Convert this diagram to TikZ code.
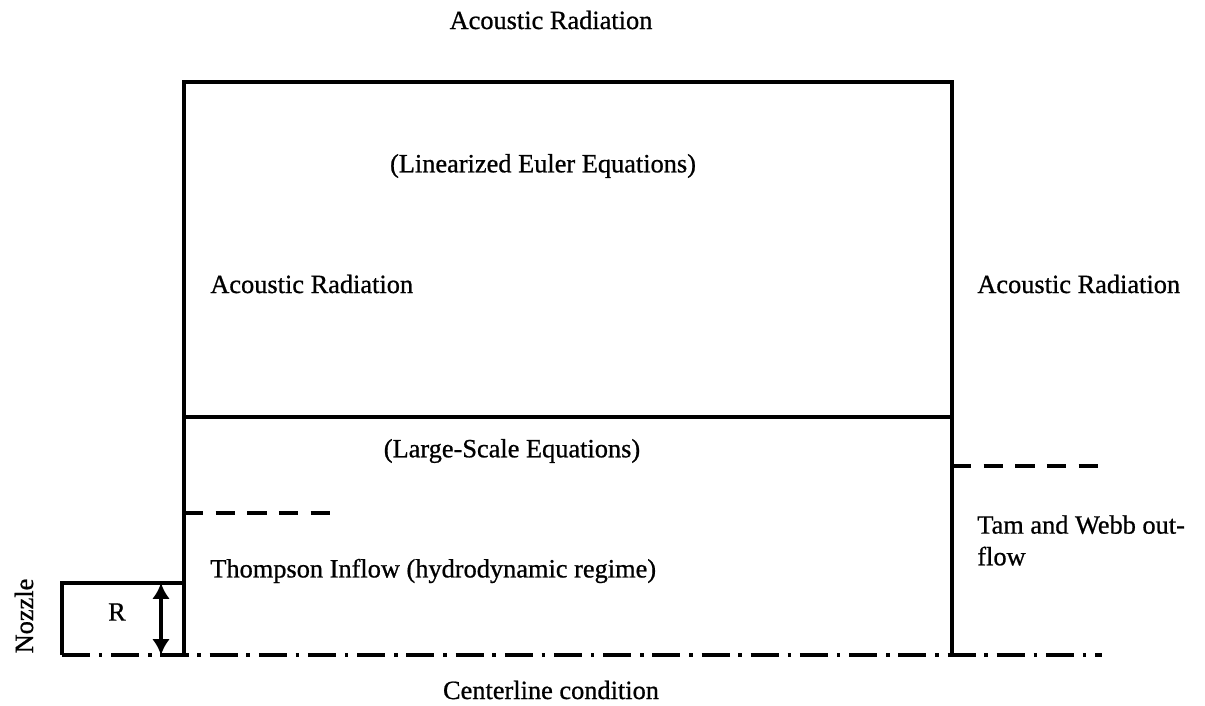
\documentclass[tikz,border=0pt]{standalone}
\usepackage{fontspec}
\setmainfont{Liberation Serif}[FakeBold=0.8]
\usetikzlibrary{arrows.meta}
\begin{document}
\begin{tikzpicture}[x=0.02cm,y=-0.02cm,
  solid line/.style={line width=2pt},
  dashline/.style={line width=2pt, dash pattern=on 11pt off 7pt},
  centerline/.style={line width=2pt, dash pattern=on 16pt off 5pt on 2pt off 5pt},
  lbl/.style={font=\fontsize{15}{18}\selectfont, inner sep=0pt}]
\useasboundingbox (0,0) rectangle (1205,706);
% corners
\coordinate (tl) at (184,82);
\coordinate (tr) at (952,82);
\coordinate (ml) at (184,417);
\coordinate (mr) at (952,417);
\coordinate (bl) at (184,655);
\coordinate (br) at (952,655);
\coordinate (nzt) at (62,583);
\coordinate (nzb) at (62,655);
\coordinate (nzc) at (184,583);
\coordinate (clend) at (1102,655);
\coordinate (ar1) at (161,583);
\coordinate (ar2) at (161,655);
\coordinate (d1a) at (184,513);
\coordinate (d1b) at (330,513);
\coordinate (d2a) at (952,466);
\coordinate (d2b) at (1102,466);
% box
\draw[solid line, line join=miter] (bl) -- (tl) -- (tr) -- (br);
\draw[solid line] (ml) -- (mr);
% nozzle
\draw[solid line] (nzb) -- (nzt) -- (nzc);
\draw[line width=2pt, {Latex[length=9pt,width=10pt]}-{Latex[length=9pt,width=10pt]}] (ar1) -- (ar2);
% centerline
\draw[centerline] (nzb) -- (clend);
% dashed lines
\draw[dashline] (d1a) -- (d1b);
\draw[dashline] (d2a) -- (d2b);
% labels
\node[lbl] (topar) at (551,20) {Acoustic Radiation};
\node[lbl] (lee) at (543,166) {(Linearized Euler Equations)};
\node[lbl, anchor=west] (leftar) at (210,284) {Acoustic Radiation};
\node[lbl, anchor=west] (rightar) at (977,284) {Acoustic Radiation};
\node[lbl] (lse) at (512,451) {(Large-Scale Equations)};
\node[lbl, anchor=west] (thom) at (210,571) {Thompson Inflow (hydrodynamic regime)};
\node[lbl, anchor=north west, align=left] (tam) at (977,515) {Tam and Webb out-\\flow};
\node[lbl] (R) at (117,612) {R};
\node[lbl, rotate=90] (noz) at (24,616) {Nozzle};
\node[lbl] (cl) at (551,690) {Centerline condition};
\end{tikzpicture}
\end{document}
